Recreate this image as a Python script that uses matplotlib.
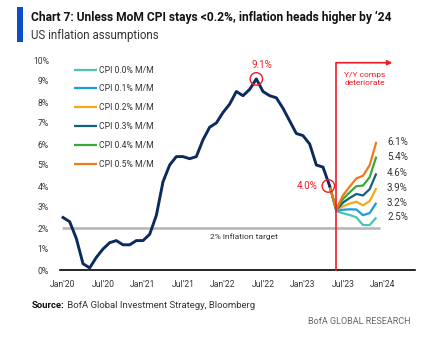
import matplotlib
matplotlib.use("Agg")
import matplotlib.pyplot as plt
from matplotlib.patches import Rectangle

plt.rcParams['font.family'] = ['Roboto', 'DejaVu Sans']

# monthly CPI y/y, Jan'20 .. May'23
actual_cpi = [2.5, 2.3, 1.5, 0.3, 0.1, 0.6, 1.0, 1.3, 1.4, 1.2, 1.2, 1.4,
              1.4, 1.7, 2.6, 4.2, 5.0, 5.4, 5.4, 5.3, 5.4, 6.2, 6.8, 7.0,
              7.5, 7.9, 8.5, 8.3, 8.6, 9.1, 8.5, 8.3, 8.2, 7.7, 7.1, 6.5,
              6.4, 6.0, 5.0, 4.9, 4.0]

# projections, May'23 .. Dec'23
scenario_labels = ["CPI 0.0% M/M", "CPI 0.1% M/M", "CPI 0.2% M/M",
                   "CPI 0.3% M/M", "CPI 0.4% M/M", "CPI 0.5% M/M"]
proj_00 = [4.0, 2.80, 2.70, 2.62, 2.51, 2.14, 2.14, 2.5]
proj_01 = [4.0, 2.82, 2.87, 2.89, 2.88, 2.61, 2.71, 3.2]
proj_02 = [4.0, 2.84, 3.04, 3.16, 3.25, 3.08, 3.28, 3.9]
proj_03 = [4.0, 2.86, 3.21, 3.43, 3.62, 3.55, 3.85, 4.6]
proj_04 = [4.0, 2.88, 3.38, 3.70, 3.99, 4.02, 4.42, 5.4]
proj_05 = [4.0, 2.90, 3.55, 3.97, 4.36, 4.49, 4.99, 6.1]
end_labels = ["6.1%", "5.4%", "4.6%", "3.9%", "3.2%", "2.5%"]

x_ticklabels = ["Jan'20", "Jul'20", "Jan'21", "Jul'21", "Jan'22",
                "Jul'22", "Jan'23", "Jul'23", "Jan'24"]
y_ticklabels = [f"{v}%" for v in range(0, 11)]

colors = ["#4cc3b4", "#1a9de0", "#f5a81c", "#16607c", "#3ba63a", "#f07a1a"]
navy = "#0c2a5e"
red = "#ee1c25"
txt = "#333333"

fig = plt.figure(figsize=(4.32, 3.41), dpi=100)
ax = fig.add_axes([60 / 432, 1 - 270 / 341, 355 / 432, 210 / 341])

x_act = list(range(len(actual_cpi)))
x_proj = list(range(len(actual_cpi) - 1, len(actual_cpi) - 1 + len(proj_00)))
projections = [proj_00, proj_01, proj_02, proj_03, proj_04, proj_05]

# 2% target line
ax.hlines(2, -0.2, 47.5, color="#b4b4b4", lw=1.8, zorder=1)
ax.text(22, 1.6, "2% inflation target", fontsize=6, color=txt, va="center")

for vals, c, lab in zip(projections, colors, scenario_labels):
    ax.plot(x_proj, vals, color=c, lw=1.6, label=lab, zorder=3,
            solid_capstyle="butt")

ax.plot(x_act, actual_cpi, color=navy, lw=2.1, zorder=4)

# end labels
for vals, lab in zip(projections[::-1], end_labels):
    ax.text(48.6, vals[-1], lab, fontsize=7, color=txt, va="center", ha="left")

# red marker line and arrow
ax.plot([41, 41], [0, 9.87], color=red, lw=1.2, zorder=5, clip_on=False)
ax.annotate("", xy=(49.4, 9.87), xytext=(41, 9.87),
            arrowprops=dict(arrowstyle="-|>", color=red, lw=1.2,
                            mutation_scale=7, shrinkA=0, shrinkB=0),
            annotation_clip=False)
ax.text(45.3, 9.1, "Y/Y comps\ndeteriorate", color=red, fontsize=6,
        ha="center", va="center", linespacing=1.3)

# circles
ax.scatter([29, 39.8], [9.1, 4.0], s=80, facecolors="none", edgecolors=red,
           linewidths=1.0, zorder=6, clip_on=False)
ax.text(29.9, 9.75, "9.1%", color=red, fontsize=7, ha="center", va="center")
ax.text(36.6, 4.0, "4.0%", color=red, fontsize=7, ha="center", va="center")

ax.set_xlim(-0.45, 52.8)
ax.set_ylim(0, 10)
ax.set_xticks(range(0, 49, 6))
ax.set_xticklabels(x_ticklabels)
ax.set_yticks(range(0, 11))
ax.set_yticklabels(y_ticklabels)
ax.tick_params(length=0, labelsize=6.2, labelcolor=txt)
ax.tick_params(axis="x", pad=7)
ax.tick_params(axis="y", pad=8)
for s in ["top", "right", "left"]:
    ax.spines[s].set_visible(False)
ax.spines["bottom"].set_color("black")
ax.spines["bottom"].set_linewidth(1.2)

ax.legend(loc="upper left", bbox_to_anchor=(0.03, 0.99), frameon=False,
          fontsize=6.2, handlelength=2.7, handletextpad=0.15,
          labelspacing=1.15, borderaxespad=0, labelcolor=txt)

# title block
fig.add_artist(Rectangle((17 / 432, 1 - 42 / 341), 6 / 432, 35 / 341,
                         transform=fig.transFigure, color="#0a4fc4", lw=0))
title = fig.text(31 / 432, 1 - 17 / 341,
                 "Chart 7: Unless MoM CPI stays <0.2%, inflation heads higher by \u201824",
                 fontsize=9, fontweight="bold", color="#111111", va="center")
fig.text(31 / 432, 1 - 35 / 341, "US inflation assumptions", fontsize=8.3,
         color=txt, va="center")

# shrink title to the reference width
renderer = fig.canvas.get_renderer()
w = title.get_window_extent(renderer).width
if w > 360:
    title.set_fontsize(9 * 360 / w)

src = fig.text(32 / 432, 1 - 305 / 341, "Source:", fontsize=6.8,
               fontweight="bold", color="#111111", va="center")
ax.annotate(" BofA Global Investment Strategy, Bloomberg", xy=(1, 0.5),
            xycoords=src, va="center", ha="left", fontsize=6.8, color=txt,
            annotation_clip=False)
fig.text(410 / 432, 1 - 321 / 341, "BofA GLOBAL RESEARCH", fontsize=6.5,
         color="#666666", va="center", ha="right")

fig.savefig("out.png", dpi=100)
